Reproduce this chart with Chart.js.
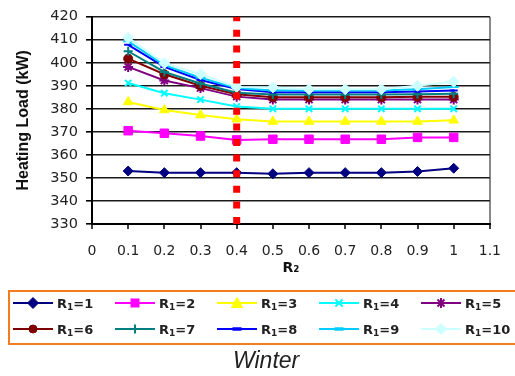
<!DOCTYPE html>
<html>
<head>
<meta charset="utf-8">
<script src="https://cdn.jsdelivr.net/npm/chart.js@4.4.1/dist/chart.umd.min.js"></script>
<style>
  body { margin: 0; background: #fff; }
  #wrap { position: relative; width: 515px; height: 376px; overflow: hidden; }
  #chart { position: absolute; left: 0; top: 0; }
  #legend { position: absolute; left: 8px; top: 290px; width: 520px; height: 55px;
            border: 2px solid #f47b20; box-sizing: border-box; }
  .item { position: absolute; height: 16px; display: flex; align-items: center;
          font-family: "DejaVu Sans"; font-weight: bold; font-size: 13px; color: #222; white-space: nowrap; }
  .item svg { margin-right: 4px; }
  .item .sub { font-size: 9px; position: relative; top: 4px; }
  #title { position: absolute; left: 233px; top: 349px; font-family: "Liberation Sans";
           font-style: italic; font-size: 23px; line-height: 23px; color: #222; }
</style>
</head>
<body>
<div id="wrap">
  <canvas id="chart" width="515" height="376"></canvas>
  <div id="legend"></div>
  <div id="title">Winter</div>
</div>
<script>
// R2 values on the x axis
const r2 = [0.1, 0.2, 0.3, 0.4, 0.5, 0.6, 0.7, 0.8, 0.9, 1.0];

// heating load (kW) for each R1
const load_R1_1  = [353, 352.3, 352.3, 352.3, 351.8, 352.3, 352.3, 352.3, 352.8, 354.2];
const load_R1_2  = [370.5, 369.4, 368.2, 366.5, 366.8, 366.8, 366.8, 366.8, 367.6, 367.6];
const load_R1_3  = [383, 379.5, 377.3, 375.5, 374.5, 374.5, 374.5, 374.5, 374.5, 375];
const load_R1_4  = [391.2, 386.8, 384, 381, 380, 380, 380, 380, 380, 380];
const load_R1_5  = [398.2, 392.3, 389, 385.3, 384, 384, 384, 384, 384, 384];
const load_R1_6  = [401.8, 395, 390, 386.3, 385, 385, 385, 385, 385.2, 385.2];
const load_R1_7  = [405, 396, 391, 387, 386.2, 386.2, 386.2, 386.2, 386.3, 386.5];
const load_R1_8  = [407.8, 398.2, 392.5, 388.6, 387.2, 387.2, 387.2, 387.2, 387.5, 388];
const load_R1_9  = [409.3, 399, 393.5, 389, 388, 388, 388, 388, 388.5, 389.5];
const load_R1_10 = [410.8, 399.8, 395, 389.5, 389.3, 388.5, 388.5, 388.5, 390, 391.8];

const r1Labels = ['1', '2', '3', '4', '5', '6', '7', '8', '9', '10'];
const seriesValues = [load_R1_1, load_R1_2, load_R1_3, load_R1_4, load_R1_5,
                      load_R1_6, load_R1_7, load_R1_8, load_R1_9, load_R1_10];

const colors = ['#000080', '#ff00ff', '#ffff00', '#00ffff', '#800080',
                '#800000', '#008080', '#0000ff', '#00ccff', '#ccffff'];
const markers = ['rectRot', 'rect', 'triangle', 'crossRot', 'star',
                 'circle', 'cross', 'line', 'line', 'rectRot'];
const markerSize = [5, 6, 5.5, 4.5, 5, 4.5, 4.5, 4, 5, 5.5];

// the R2 = 0.4 marker line
const cutX = 0.4;
const yMin = 330, yMax = 420;

const datasets = seriesValues.map((vals, i) => ({
  label: 'R1=' + r1Labels[i],
  data: r2.map((x, j) => ({ x: x, y: vals[j] })),
  borderColor: colors[i],
  backgroundColor: colors[i],
  borderWidth: 2,
  pointStyle: markers[i],
  pointRadius: markerSize[i],
  pointBorderWidth: ['crossRot', 'star', 'cross', 'line'].includes(markers[i]) ? 2 : 1,
  order: 9 - i
}));

datasets.push({
  label: 'cut',
  data: [{ x: cutX, y: yMin }, { x: cutX, y: yMax }],
  borderColor: '#ff0000',
  borderWidth: 7,
  borderDash: [7, 8.6],
  borderCapStyle: 'butt',
  pointRadius: 0,
  order: -1
});

const tickFont = { family: 'DejaVu Sans', size: 14 };

new Chart(document.getElementById('chart'), {
  type: 'line',
  data: { datasets: datasets },
  options: {
    responsive: false,
    animation: false,
    layout: { autoPadding: false, padding: { left: 0, top: 13, right: 10, bottom: 99 } },
    plugins: { legend: { display: false }, tooltip: { enabled: false } },
    elements: { line: { tension: 0 } },
    scales: {
      x: {
        type: 'linear', min: 0, max: 1.1,
        ticks: { stepSize: 0.1, color: '#222', font: tickFont, padding: 14, maxRotation: 0,
                 callback: v => String(+(+v).toFixed(1)) },
        grid: {
          color: c => (c.tick && Math.abs(c.tick.value - 1.1) < 1e-6) ? '#888' : 'rgba(0,0,0,0)',
          lineWidth: 2, tickColor: '#000', tickWidth: 1.5, tickLength: 5
        },
        border: { color: '#000', width: 2 },
        title: { display: true, text: 'R₂', color: '#111',
                 font: { family: 'DejaVu Sans', weight: 'bold', size: 14 }, padding: { top: 0, bottom: 0 } },
        afterFit: s => { s.height = 53; }
      },
      y: {
        min: yMin, max: yMax,
        ticks: { stepSize: 10, color: '#222', font: { family: 'DejaVu Sans', size: 14.5 }, padding: 8 },
        grid: { color: '#1a1a1a', lineWidth: 1.6, tickColor: '#000', tickLength: 6 },
        border: { color: '#000', width: 2 },
        title: { display: true, text: 'Heating Load (kW)', color: '#111',
                 font: { family: 'Liberation Sans', weight: 'bold', size: 16 }, padding: { top: 14, bottom: 0 } },
        afterFit: s => { s.width = 92; }
      }
    }
  }
});

// legend laid out like the spreadsheet one: 5 columns, 2 rows
function markerSvg(style, color) {
  const c = 'fill="' + color + '" stroke="' + color + '"';
  switch (style) {
    case 'rectRot': return '<polygon points="20,1.5 25.5,7 20,12.5 14.5,7" ' + c + '/>';
    case 'rect': return '<rect x="16" y="3" width="8" height="8" ' + c + '/>';
    case 'triangle': return '<polygon points="20,1.5 25.5,11.5 14.5,11.5" ' + c + '/>';
    case 'crossRot': return '<path d="M16.5 3.5 L23.5 10.5 M23.5 3.5 L16.5 10.5" stroke="' + color + '" stroke-width="2"/>';
    case 'star': return '<path d="M16.5 3.5 L23.5 10.5 M23.5 3.5 L16.5 10.5 M20 2 L20 12 M15 7 L25 7" stroke="' + color + '" stroke-width="2"/>';
    case 'circle': return '<circle cx="20" cy="7" r="4" ' + c + '/>';
    case 'cross': return '<path d="M20 2.5 L20 11.5 M15.5 7 L24.5 7" stroke="' + color + '" stroke-width="2"/>';
    case 'line': return '<path d="M15.5 7 L24.5 7" stroke="' + color + '" stroke-width="3.5"/>';
  }
  return '';
}

const legend = document.getElementById('legend');
r1Labels.forEach((lab, i) => {
  const col = i % 5, row = Math.floor(i / 5);
  const el = document.createElement('div');
  el.className = 'item';
  el.style.left = (3 + 102 * col) + 'px';
  el.style.top = (row === 0 ? 3 : 29) + 'px';
  el.innerHTML = '<svg width="40" height="14"><line x1="0" y1="7" x2="40" y2="7" stroke="' + colors[i] +
    '" stroke-width="2"/>' + markerSvg(markers[i], colors[i]) + '</svg>R<span class="sub">1</span>=' + lab;
  legend.appendChild(el);
});
</script>
</body>
</html>
